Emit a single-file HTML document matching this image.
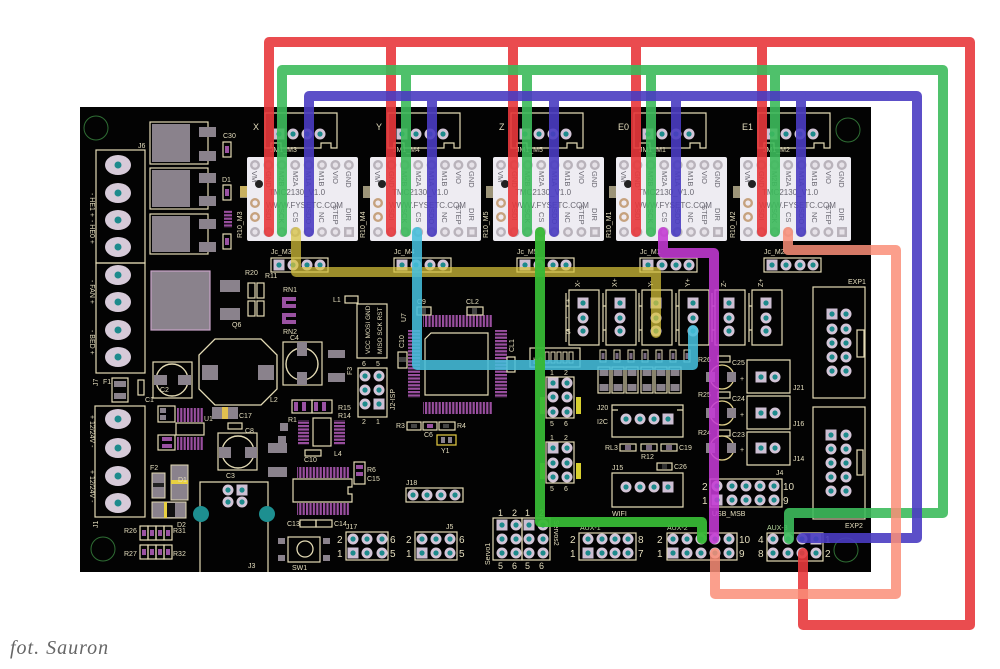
<!DOCTYPE html>
<html><head><meta charset="utf-8"><style>
html,body{margin:0;padding:0;background:#fff;}
svg{display:block;}
text{font-family:"Liberation Sans",sans-serif;}
.s{fill:#e6dfbf;font-size:7px;}
.m{font-family:"Liberation Mono",monospace;fill:#6a6872;font-size:8px;}
.o{fill:none;stroke:#e3dab4;stroke-width:1.2;}
.g{fill:#8a828c;}
.p{fill:#9a52a2;}
</style></head><body>
<svg width="1000" height="669" viewBox="0 0 1000 669" xmlns="http://www.w3.org/2000/svg" xmlns:xlink="http://www.w3.org/1999/xlink">
<defs>
<g id="pr"><circle r="5.5" fill="#d3c5d7"/><circle r="2.6" fill="#1d8a8c"/></g>
<g id="ps"><rect x="-5.5" y="-5.5" width="11" height="11" fill="#cdbfd3"/><circle r="2.6" fill="#1d8a8c"/></g>
<g id="dp"><circle r="5" fill="#b9b3bb"/><circle r="2.6" fill="#e6e2e8"/></g>
<g id="db"><circle r="5" fill="#c6a27e"/><circle r="2.6" fill="#efeaf0"/></g>
<pattern id="vs" width="3.4" height="10" patternUnits="userSpaceOnUse"><rect width="2.2" height="10" fill="#9a4fa0"/></pattern>
<pattern id="hs" width="10" height="3.4" patternUnits="userSpaceOnUse"><rect width="10" height="2.2" fill="#9a4fa0"/></pattern>
<g id="drv">
 <rect x="-7" y="186" width="8" height="12" fill="#9c9478"/>
 <rect x="0" y="157" width="111" height="84" rx="2" fill="#eeecf2"/>
 <use href="#dp" x="8" y="165"/><use href="#dp" x="21.4" y="165"/><use href="#dp" x="34.8" y="165"/><use href="#dp" x="48.2" y="165"/><use href="#dp" x="61.6" y="165"/><use href="#dp" x="75" y="165"/><use href="#dp" x="88.4" y="165"/><use href="#dp" x="101.8" y="165"/>
 <use href="#dp" x="8" y="232"/><use href="#dp" x="21.4" y="232"/><use href="#dp" x="34.8" y="232"/><use href="#dp" x="48.2" y="232"/><use href="#dp" x="61.6" y="232"/><use href="#dp" x="75" y="232"/><use href="#dp" x="88.4" y="232"/>
 <rect x="97" y="227" width="10" height="10" fill="#b9b3bb"/><rect x="99.5" y="229.5" width="5" height="5" fill="#e6e2e8"/>
 <use href="#db" x="8" y="203"/><use href="#db" x="8" y="217"/>
 <circle cx="12" cy="184" r="4" fill="#222"/>
 <path class="o" d="M18,113 H90 V148 H84 V143 H74 V148 H34 V143 H24 V148 H18 Z"/>
 <use href="#ps" x="32" y="134"/><use href="#pr" x="46" y="134"/><use href="#pr" x="60" y="134"/><use href="#pr" x="73" y="134"/>
 <rect class="o" x="24" y="258" width="57" height="14"/>
 <use href="#ps" x="32" y="265"/><use href="#pr" x="46" y="265"/><use href="#pr" x="60" y="265"/><use href="#pr" x="73" y="265"/>
</g>
<g id="es">
 <path class="o" d="M-14,290 H16 V345 H-14 Z M-17,293 V342 M-17,306 H-14 M-17,330 H-14"/>
 <use href="#ps" x="0" y="303"/><use href="#pr" x="0" y="318"/><use href="#pr" x="0" y="331"/>
</g>
<g id="bc"><rect class="o" x="0" y="0" width="12" height="26"/><rect class="g" x="1.5" y="2" width="9" height="7"/><rect class="g" x="1.5" y="17" width="9" height="7"/></g>
<g id="sr"><rect x="0" y="0" width="6" height="12" fill="none" stroke="#e3dab4"/><rect x="1.5" y="3" width="3" height="6" fill="#7a6a80"/></g>
</defs>

<!-- board -->
<rect x="80" y="107" width="791" height="465" fill="#030303"/>
<circle cx="96" cy="128" r="12" fill="none" stroke="#2f6e34" stroke-width="1"/>
<circle cx="848" cy="130" r="12" fill="none" stroke="#2f6e34" stroke-width="1"/>
<circle cx="103" cy="549" r="12" fill="none" stroke="#2f6e34" stroke-width="1"/>
<circle cx="846" cy="550" r="12" fill="none" stroke="#2f6e34" stroke-width="1"/>

<!-- drivers -->
<use href="#drv" x="247"/><use href="#drv" x="370"/><use href="#drv" x="493"/><use href="#drv" x="616"/><use href="#drv" x="740"/>
<g class="s" style="font-size:9px">
<text x="253" y="130">X</text><text x="376" y="130">Y</text><text x="499" y="130">Z</text><text x="618" y="130">E0</text><text x="742" y="130">E1</text>
</g>
<g class="s">
<text x="271" y="254">Jc_M3</text><text x="394" y="254">Jc_M4</text><text x="517" y="254">Jc_M5</text><text x="640" y="254">Jc_M1</text><text x="764" y="254">Jc_M2</text>
<text x="270" y="152">JM1_M3</text><text x="393" y="152">JM1_M4</text><text x="516" y="152">JM1_M5</text><text x="639" y="152">JM1_M1</text><text x="763" y="152">JM1_M2</text>
<text transform="translate(242,238) rotate(-90)">R10_M3</text><text transform="translate(365,238) rotate(-90)">R10_M4</text><text transform="translate(488,238) rotate(-90)">R10_M5</text><text transform="translate(611,238) rotate(-90)">R10_M1</text><text transform="translate(735,238) rotate(-90)">R10_M2</text>
</g>
<g class="m">
<text x="269" y="195">TMC2130_V1.0</text><text x="266" y="208">WWW.FYSETC.COM</text>
<text x="392" y="195">TMC2130_V1.0</text><text x="389" y="208">WWW.FYSETC.COM</text>
<text x="515" y="195">TMC2130_V1.0</text><text x="512" y="208">WWW.FYSETC.COM</text>
<text x="638" y="195">TMC2130_V1.0</text><text x="635" y="208">WWW.FYSETC.COM</text>
<text x="762" y="195">TMC2130_V1.0</text><text x="759" y="208">WWW.FYSETC.COM</text>
</g>
<g class="m" style="font-size:7.5px">
<text transform="translate(252,171) rotate(90)">VM</text><text transform="translate(266,171) rotate(90)">GND</text><text transform="translate(279,171) rotate(90)">M2B</text><text transform="translate(293,171) rotate(90)">M2A</text><text transform="translate(306,171) rotate(90)">M1A</text><text transform="translate(319,171) rotate(90)">M1B</text><text transform="translate(333,171) rotate(90)">VIO</text><text transform="translate(346,171) rotate(90)">GND</text>
<text transform="translate(266,208) rotate(90)">SDI</text><text transform="translate(279,208) rotate(90)">SCK</text><text transform="translate(293,212) rotate(90)">CS</text><text transform="translate(306,208) rotate(90)">SDO</text><text transform="translate(319,212) rotate(90)">NC</text><text transform="translate(333,205) rotate(90)">STEP</text><text transform="translate(346,208) rotate(90)">DIR</text>
<text transform="translate(375,171) rotate(90)">VM</text><text transform="translate(389,171) rotate(90)">GND</text><text transform="translate(402,171) rotate(90)">M2B</text><text transform="translate(416,171) rotate(90)">M2A</text><text transform="translate(429,171) rotate(90)">M1A</text><text transform="translate(442,171) rotate(90)">M1B</text><text transform="translate(456,171) rotate(90)">VIO</text><text transform="translate(469,171) rotate(90)">GND</text>
<text transform="translate(389,208) rotate(90)">SDI</text><text transform="translate(402,208) rotate(90)">SCK</text><text transform="translate(416,212) rotate(90)">CS</text><text transform="translate(429,208) rotate(90)">SDO</text><text transform="translate(442,212) rotate(90)">NC</text><text transform="translate(456,205) rotate(90)">STEP</text><text transform="translate(469,208) rotate(90)">DIR</text>
<text transform="translate(498,171) rotate(90)">VM</text><text transform="translate(512,171) rotate(90)">GND</text><text transform="translate(525,171) rotate(90)">M2B</text><text transform="translate(539,171) rotate(90)">M2A</text><text transform="translate(552,171) rotate(90)">M1A</text><text transform="translate(565,171) rotate(90)">M1B</text><text transform="translate(579,171) rotate(90)">VIO</text><text transform="translate(592,171) rotate(90)">GND</text>
<text transform="translate(512,208) rotate(90)">SDI</text><text transform="translate(525,208) rotate(90)">SCK</text><text transform="translate(539,212) rotate(90)">CS</text><text transform="translate(552,208) rotate(90)">SDO</text><text transform="translate(565,212) rotate(90)">NC</text><text transform="translate(579,205) rotate(90)">STEP</text><text transform="translate(592,208) rotate(90)">DIR</text>
<text transform="translate(621,171) rotate(90)">VM</text><text transform="translate(635,171) rotate(90)">GND</text><text transform="translate(648,171) rotate(90)">M2B</text><text transform="translate(662,171) rotate(90)">M2A</text><text transform="translate(675,171) rotate(90)">M1A</text><text transform="translate(688,171) rotate(90)">M1B</text><text transform="translate(702,171) rotate(90)">VIO</text><text transform="translate(715,171) rotate(90)">GND</text>
<text transform="translate(635,208) rotate(90)">SDI</text><text transform="translate(648,208) rotate(90)">SCK</text><text transform="translate(662,212) rotate(90)">CS</text><text transform="translate(675,208) rotate(90)">SDO</text><text transform="translate(688,212) rotate(90)">NC</text><text transform="translate(702,205) rotate(90)">STEP</text><text transform="translate(715,208) rotate(90)">DIR</text>
<text transform="translate(745,171) rotate(90)">VM</text><text transform="translate(759,171) rotate(90)">GND</text><text transform="translate(772,171) rotate(90)">M2B</text><text transform="translate(786,171) rotate(90)">M2A</text><text transform="translate(799,171) rotate(90)">M1A</text><text transform="translate(812,171) rotate(90)">M1B</text><text transform="translate(826,171) rotate(90)">VIO</text><text transform="translate(839,171) rotate(90)">GND</text>
<text transform="translate(759,208) rotate(90)">SDI</text><text transform="translate(772,208) rotate(90)">SCK</text><text transform="translate(786,212) rotate(90)">CS</text><text transform="translate(799,208) rotate(90)">SDO</text><text transform="translate(812,212) rotate(90)">NC</text><text transform="translate(826,205) rotate(90)">STEP</text><text transform="translate(839,208) rotate(90)">DIR</text>
</g>

<!-- left power section -->
<rect class="o" x="96" y="150" width="49" height="113"/>
<rect class="o" x="96" y="263" width="49" height="110"/>
<rect class="o" x="95" y="406" width="50" height="111"/>
<g fill="#d6cad8">
<ellipse cx="118" cy="165" rx="13" ry="10"/><ellipse cx="118" cy="193" rx="13" ry="10"/><ellipse cx="118" cy="220" rx="13" ry="10"/><ellipse cx="118" cy="247" rx="13" ry="10"/>
<ellipse cx="118" cy="275" rx="13" ry="10"/><ellipse cx="118" cy="302" rx="13" ry="10"/><ellipse cx="118" cy="330" rx="13" ry="10"/><ellipse cx="118" cy="357" rx="13" ry="10"/>
<ellipse cx="118" cy="419" rx="13" ry="10"/><ellipse cx="118" cy="448" rx="13" ry="10"/><ellipse cx="118" cy="476" rx="13" ry="10"/><ellipse cx="118" cy="503" rx="13" ry="10"/>
</g>
<g fill="#1d8a8c">
<circle cx="118" cy="165" r="3.5"/><circle cx="118" cy="193" r="3.5"/><circle cx="118" cy="220" r="3.5"/><circle cx="118" cy="247" r="3.5"/>
<circle cx="118" cy="275" r="3.5"/><circle cx="118" cy="302" r="3.5"/><circle cx="118" cy="330" r="3.5"/><circle cx="118" cy="357" r="3.5"/>
<circle cx="118" cy="419" r="3.5"/><circle cx="118" cy="448" r="3.5"/><circle cx="118" cy="476" r="3.5"/><circle cx="118" cy="503" r="3.5"/>
</g>
<g class="s">
<text transform="translate(90,193) rotate(90)">- HE1 +</text>
<text transform="translate(90,220) rotate(90)" x="0">- HE0 +</text>
<text transform="translate(90,280) rotate(90)">- FAN +</text>
<text transform="translate(90,330) rotate(90)">- BED +</text>
<text transform="translate(90,415) rotate(90)">+ 12/24V -</text>
<text transform="translate(90,470) rotate(90)">+ 12/24V -</text>
<text x="138" y="148">J6</text><text transform="translate(98,386) rotate(-90)">J7</text><text transform="translate(98,528) rotate(-90)">J1</text>
</g>
<!-- mosfets -->
<g>
<rect class="o" x="150" y="122" width="58" height="42"/><rect class="g" x="152" y="124" width="38" height="38"/><rect class="g" x="199" y="127" width="17" height="10"/><rect class="g" x="199" y="151" width="17" height="10"/>
<rect class="o" x="150" y="168" width="58" height="41"/><rect class="g" x="152" y="170" width="38" height="37"/><rect class="g" x="199" y="173" width="17" height="10"/><rect class="g" x="199" y="196" width="17" height="10"/>
<rect class="o" x="150" y="214" width="58" height="40"/><rect class="g" x="152" y="216" width="38" height="36"/><rect class="g" x="199" y="219" width="17" height="10"/><rect class="g" x="199" y="242" width="17" height="10"/>
<rect x="151" y="271" width="59" height="59" fill="#8a828c" stroke="#c9a4c9" stroke-width="1.2"/>
<rect class="g" x="220" y="280" width="20" height="12"/><rect class="g" x="220" y="308" width="20" height="12"/>
<rect class="o" x="223" y="142" width="8" height="15"/><rect class="p" x="225" y="146" width="4" height="7"/>
<rect class="o" x="223" y="185" width="8" height="15"/><rect class="p" x="225" y="189" width="4" height="7"/>
<rect class="o" x="223" y="234" width="8" height="15"/><rect class="p" x="225" y="238" width="4" height="7"/>
<rect x="224" y="210" width="8" height="18" fill="url(#hs)"/>
<rect x="240" y="186" width="7" height="11" fill="#c8b060"/>
<rect class="o" x="248" y="283" width="7" height="15"/><rect class="o" x="257" y="283" width="7" height="15"/>
<rect class="o" x="248" y="301" width="7" height="15"/><rect class="o" x="257" y="301" width="7" height="15"/>
<path d="M282,297 h14 v4 h-10 v3 h10 v4 h-14 Z M282,313 h14 v4 h-10 v3 h10 v4 h-14 Z" fill="#9a52a2"/>
</g>
<g class="s">
<text x="223" y="138">C30</text><text x="222" y="182">D1</text><text x="245" y="275">R20</text><text x="283" y="292">RN1</text><text x="283" y="334">RN2</text><text x="232" y="327">Q6</text><text x="265" y="278">R11</text>
</g>

<!-- caps and inductor -->
<rect class="o" x="153" y="362" width="39" height="36"/>
<circle cx="172" cy="380" r="16" fill="none" stroke="#e3dab4" stroke-width="1.4"/>
<rect class="g" x="154" y="375" width="13" height="10"/><rect class="g" x="178" y="375" width="13" height="10"/>
<polygon points="215,339 261,339 277,355 277,389 261,405 215,405 199,389 199,355" fill="none" stroke="#e3dab4" stroke-width="1.3"/>
<rect class="g" x="202" y="365" width="16" height="15"/><rect class="g" x="258" y="365" width="16" height="15"/>
<rect class="o" x="283" y="342" width="39" height="43"/>
<circle cx="302" cy="364" r="16" fill="none" stroke="#e3dab4" stroke-width="1.4"/>
<rect class="g" x="297" y="342" width="10" height="14"/><rect class="g" x="297" y="372" width="10" height="13"/>
<rect class="g" x="328" y="350" width="17" height="8"/><rect class="g" x="328" y="373" width="17" height="9"/>
<rect class="o" x="218" y="433" width="39" height="37"/>
<circle cx="238" cy="452" r="16" fill="none" stroke="#e3dab4" stroke-width="1.4"/>
<rect class="g" x="219" y="447" width="12" height="11"/><rect class="g" x="245" y="447" width="12" height="11"/>
<rect class="o" x="112" y="378" width="16" height="24"/><rect class="g" x="114" y="381" width="12" height="6"/><rect class="g" x="114" y="393" width="12" height="6"/>
<rect class="o" x="138" y="380" width="6" height="15"/>
<rect class="o" x="158" y="406" width="17" height="16"/><rect class="g" x="160" y="408" width="6" height="5"/><rect class="g" x="160" y="415" width="6" height="5"/>
<rect class="o" x="158" y="435" width="17" height="15"/><rect class="p" x="162" y="437" width="10" height="4"/><rect class="p" x="162" y="444" width="10" height="4"/>
<rect x="177" y="408" width="26" height="14" fill="url(#vs)"/><rect x="177" y="437" width="26" height="13" fill="url(#vs)"/>
<rect class="o" x="176" y="423" width="28" height="12"/>
<rect class="g" x="212" y="407" width="10" height="12"/><rect x="222" y="407" width="6" height="12" fill="#e0c050"/><rect class="g" x="228" y="407" width="10" height="12"/>
<rect class="o" x="228" y="423" width="14" height="6"/>
<rect class="g" x="268" y="443" width="19" height="10"/><rect class="g" x="268" y="467" width="19" height="10"/>
<rect class="o" x="292" y="400" width="20" height="13"/><rect class="o" x="312" y="400" width="20" height="13"/>
<rect class="p" x="294" y="402" width="4" height="9"/><rect class="p" x="302" y="402" width="4" height="9"/><rect class="p" x="314" y="402" width="4" height="9"/><rect class="p" x="322" y="402" width="4" height="9"/>
<rect class="o" x="313" y="418" width="18" height="28"/>
<rect x="298" y="420" width="11" height="25" fill="url(#hs)"/><rect x="334" y="420" width="11" height="25" fill="url(#hs)"/>
<rect class="o" x="305" y="450" width="16" height="6"/>
<rect class="g" x="280" y="423" width="8" height="8"/><rect class="g" x="278" y="436" width="8" height="8"/>
<!-- U3 -->
<rect x="297" y="467" width="52" height="11" fill="url(#vs)"/><rect x="297" y="503" width="52" height="12" fill="url(#vs)"/>
<path class="o" d="M293,479 H352 V487 H348 V494 H352 V502 H293 Z"/>
<rect class="o" x="300" y="520" width="16" height="7"/><rect class="o" x="316" y="520" width="16" height="7"/>
<rect class="o" x="354" y="462" width="11" height="22"/><rect class="p" x="356" y="465" width="7" height="4"/><rect class="p" x="356" y="472" width="7" height="4"/>
<!-- diodes/fuses -->
<rect x="152" y="473" width="13" height="25" fill="#8a828c" stroke="#e3dab4" stroke-width="1"/><rect x="153" y="483" width="11" height="4" fill="#222"/>
<rect x="171" y="465" width="17" height="35" fill="#8a828c" stroke="#e3dab4" stroke-width="1"/><rect x="171" y="480" width="17" height="4" fill="#e8d040"/>
<rect x="152" y="502" width="34" height="16" fill="#8a828c" stroke="#e3dab4" stroke-width="1"/><rect x="164" y="502" width="3" height="16" fill="#e8d040"/><rect x="167" y="503" width="8" height="14" fill="#111"/>
<g><rect class="o" x="140" y="526" width="8" height="14"/><rect class="o" x="148" y="526" width="8" height="14"/><rect class="o" x="156" y="526" width="8" height="14"/><rect class="o" x="164" y="526" width="8" height="14"/>
<rect class="o" x="140" y="545" width="8" height="14"/><rect class="o" x="148" y="545" width="8" height="14"/><rect class="o" x="156" y="545" width="8" height="14"/><rect class="o" x="164" y="545" width="8" height="14"/>
<rect class="p" x="142" y="530" width="4" height="6"/><rect class="p" x="150" y="530" width="4" height="6"/><rect class="p" x="158" y="530" width="4" height="6"/><rect class="p" x="166" y="530" width="4" height="6"/>
<rect class="p" x="142" y="549" width="4" height="6"/><rect class="p" x="150" y="549" width="4" height="6"/><rect class="p" x="158" y="549" width="4" height="6"/><rect class="p" x="166" y="549" width="4" height="6"/></g>
<!-- USB J3 -->
<path class="o" d="M200,572 V482 H268 V572"/>
<circle cx="201" cy="514" r="8" fill="#1d8f90"/><circle cx="267" cy="514" r="8" fill="#1d8f90"/>
<use href="#pr" x="228" y="490"/><use href="#ps" x="242" y="490"/><use href="#pr" x="228" y="502"/><use href="#pr" x="242" y="502"/>
<!-- SW1 -->
<rect class="o" x="288" y="537" width="32" height="25"/><circle cx="305" cy="549" r="8" fill="none" stroke="#e3dab4" stroke-width="1.3"/>
<rect class="g" x="278" y="538" width="7" height="6"/><rect class="g" x="278" y="555" width="7" height="6"/><rect class="g" x="323" y="538" width="7" height="6"/><rect class="g" x="323" y="555" width="7" height="6"/>
<g class="s">
<text x="145" y="402">C1</text><text x="270" y="402">L2</text><text x="290" y="340">C4</text><text x="226" y="478">C3</text><text x="160" y="392">C2</text>
<text x="178" y="482" transform="rotate(0)">D1</text><text x="177" y="527">D2</text><text x="150" y="470">F2</text><text x="103" y="384">F1</text>
<text x="204" y="421">U1</text><text x="239" y="418">C17</text><text x="245" y="433">C8</text><text x="288" y="422">R1</text><text x="338" y="410">R15</text><text x="338" y="418">R14</text>
<text x="334" y="456">L4</text><text x="304" y="462">C10</text><text x="287" y="526">C13</text><text x="334" y="526">C14</text><text x="292" y="570">SW1</text><text x="248" y="568">J3</text>
<text x="173" y="533">R31</text><text x="173" y="556">R32</text><text x="124" y="533">R26</text><text x="124" y="556">R27</text><text x="367" y="472">R6</text><text x="367" y="481">C15</text>
</g>

<!-- ICSP / MCU -->
<rect class="o" x="345" y="296" width="13" height="7"/><text class="s" x="333" y="302">L1</text>
<rect class="o" x="357" y="304" width="30" height="54"/>
<g class="s" style="font-size:6.5px"><text transform="translate(370,354) rotate(-90)">VCC MOSI GND</text><text transform="translate(382,354) rotate(-90)">MISO SCK RST</text></g>
<rect class="o" x="358" y="368" width="29" height="49"/>
<use href="#pr" x="365" y="376"/><use href="#pr" x="379" y="376"/><use href="#pr" x="365" y="390"/><use href="#pr" x="379" y="390"/><use href="#pr" x="365" y="404"/><use href="#ps" x="379" y="404"/>
<g class="s"><text x="362" y="366">6</text><text x="376" y="366">5</text><text x="362" y="424">2</text><text x="376" y="424">1</text><text transform="translate(352,375) rotate(-90)">F3</text><text transform="translate(395,410) rotate(-90)">J2-ISP</text></g>
<rect x="423" y="315" width="69" height="12" fill="url(#vs)"/><rect x="423" y="402" width="69" height="12" fill="url(#vs)"/>
<rect x="408" y="330" width="12" height="68" fill="url(#hs)"/><rect x="495" y="330" width="12" height="68" fill="url(#hs)"/>
<path class="o" d="M431,333 H488 V395 H425 V339 Z"/>
<rect class="o" x="417" y="307" width="14" height="8"/><rect x="421" y="308" width="5" height="6" fill="#444"/>
<rect class="o" x="467" y="307" width="16" height="8"/><rect x="472" y="308" width="5" height="6" fill="#444"/>
<rect class="o" x="398" y="352" width="9" height="16"/><rect x="399" y="357" width="7" height="5" fill="#444"/>
<rect class="o" x="507" y="357" width="8" height="15"/>
<g class="s"><text x="417" y="304">C9</text><text x="466" y="304">CL2</text><text transform="translate(404,348) rotate(-90)">C10</text><text transform="translate(514,352) rotate(-90)">CL1</text><text transform="translate(406,322) rotate(-90)">U7</text></g>
<rect class="o" x="407" y="422" width="14" height="8"/><rect class="o" x="423" y="422" width="14" height="8"/><rect class="o" x="439" y="422" width="16" height="8"/>
<rect x="427" y="424" width="6" height="4" fill="#9a52a2"/><rect x="411" y="424" width="6" height="4" fill="#444"/><rect x="443" y="424" width="6" height="4" fill="#444"/>
<rect x="437" y="435" width="19" height="10" fill="none" stroke="#d8c040" stroke-width="1.3"/><rect class="g" x="441" y="437" width="4" height="6"/><rect class="g" x="448" y="437" width="4" height="6"/>
<g class="s"><text x="396" y="428">R3</text><text x="424" y="437">C6</text><text x="457" y="428">R4</text><text x="441" y="453">Y1</text><text x="406" y="485">J18</text><text x="346" y="529">J17</text><text x="446" y="529">J5</text></g>
<rect class="o" x="406" y="488" width="57" height="14"/>
<use href="#pr" x="413" y="495"/><use href="#pr" x="427" y="495"/><use href="#pr" x="441" y="495"/><use href="#pr" x="455" y="495"/>
<!-- J17 J5 -->
<rect class="o" x="346" y="532" width="42" height="28"/>
<use href="#pr" x="353" y="539"/><use href="#pr" x="367" y="539"/><use href="#pr" x="382" y="539"/><use href="#ps" x="353" y="553"/><use href="#pr" x="367" y="553"/><use href="#pr" x="382" y="553"/>
<rect class="o" x="415" y="532" width="42" height="28"/>
<use href="#pr" x="422" y="539"/><use href="#pr" x="436" y="539"/><use href="#pr" x="450" y="539"/><use href="#ps" x="422" y="553"/><use href="#pr" x="436" y="553"/><use href="#pr" x="450" y="553"/>
<g class="s" style="font-size:10px"><text x="337" y="543">2</text><text x="337" y="557">1</text><text x="390" y="543">6</text><text x="390" y="557">5</text><text x="406" y="543">2</text><text x="406" y="557">1</text><text x="459" y="543">6</text><text x="459" y="557">5</text></g>
<!-- servos -->
<rect class="o" x="493" y="518" width="29" height="42"/><rect class="o" x="522" y="518" width="28" height="42"/>
<use href="#ps" x="502" y="525"/><use href="#pr" x="516" y="525"/><use href="#ps" x="529" y="525"/><use href="#pr" x="543" y="525"/>
<use href="#pr" x="502" y="539"/><use href="#pr" x="516" y="539"/><use href="#pr" x="529" y="539"/><use href="#pr" x="543" y="539"/>
<use href="#pr" x="502" y="553"/><use href="#pr" x="516" y="553"/><use href="#pr" x="529" y="553"/><use href="#pr" x="543" y="553"/>
<g class="s"><text x="498" y="516" style="font-size:9px">1</text><text x="512" y="516" style="font-size:9px">2</text><text x="525" y="516" style="font-size:9px">1</text><text x="539" y="516" style="font-size:9px">2</text>
<text x="498" y="569" style="font-size:9px">5</text><text x="512" y="569" style="font-size:9px">6</text><text x="525" y="569" style="font-size:9px">5</text><text x="539" y="569" style="font-size:9px">6</text>
<text transform="translate(490,565) rotate(-90)">Servo1</text><text transform="translate(554,520) rotate(90)">Servos2</text></g>

<!-- endstops -->
<use href="#es" x="583"/><use href="#es" x="620"/><use href="#es" x="656"/><use href="#es" x="693"/><use href="#es" x="729"/><use href="#es" x="766"/>
<g class="s"><text transform="translate(580,287) rotate(-90)">X-</text><text transform="translate(617,287) rotate(-90)">X+</text><text transform="translate(653,287) rotate(-90)">Y-</text><text transform="translate(690,287) rotate(-90)">Y+</text><text transform="translate(726,287) rotate(-90)">Z-</text><text transform="translate(763,287) rotate(-90)">Z+</text>
<text x="566" y="303">+</text><text x="566" y="320">-</text><text x="566" y="334">S</text></g>
<!-- resistor row and caps -->
<rect class="o" x="530" y="348" width="50" height="19"/>
<g class="s"><text x="533" y="364" style="font-size:9px">b8</text></g>
<rect x="545" y="352" width="4" height="11" fill="none" stroke="#e3dab4"/><rect x="551" y="352" width="4" height="11" fill="none" stroke="#e3dab4"/><rect x="557" y="352" width="4" height="11" fill="none" stroke="#e3dab4"/><rect x="563" y="352" width="4" height="11" fill="none" stroke="#e3dab4"/><rect x="569" y="352" width="4" height="11" fill="none" stroke="#e3dab4"/>
<use href="#sr" x="600" y="350"/><use href="#sr" x="614" y="350"/><use href="#sr" x="628" y="350"/><use href="#sr" x="642" y="350"/><use href="#sr" x="656" y="350"/><use href="#sr" x="670" y="350"/><use href="#sr" x="684" y="350"/>
<use href="#bc" x="598" y="367"/><use href="#bc" x="612" y="367"/><use href="#bc" x="626" y="367"/><use href="#bc" x="641" y="367"/><use href="#bc" x="655" y="367"/><use href="#bc" x="669" y="367"/>
<!-- jumpers -->
<rect class="o" x="546" y="377" width="28" height="41"/>
<use href="#ps" x="553" y="383"/><use href="#pr" x="567" y="383"/><use href="#pr" x="553" y="397"/><use href="#pr" x="567" y="397"/><use href="#pr" x="553" y="412"/><use href="#pr" x="567" y="412"/>
<rect x="540" y="397" width="5" height="17" fill="#d8d030"/><rect x="576" y="397" width="5" height="17" fill="#d8d030"/>
<rect class="o" x="546" y="442" width="28" height="41"/>
<use href="#ps" x="553" y="448"/><use href="#pr" x="567" y="448"/><use href="#pr" x="553" y="463"/><use href="#pr" x="567" y="463"/><use href="#pr" x="553" y="477"/><use href="#pr" x="567" y="477"/>
<rect x="540" y="463" width="5" height="16" fill="#d8d030"/><rect x="576" y="463" width="5" height="16" fill="#d8d030"/>
<g class="s"><text x="550" y="375">1</text><text x="564" y="375">2</text><text x="550" y="426">5</text><text x="564" y="426">6</text><text x="550" y="440">1</text><text x="564" y="440">2</text><text x="550" y="491">5</text><text x="564" y="491">6</text></g>
<!-- J20 J15 -->
<path class="o" d="M612,405 H683 V437 H612 Z M612,410 H618 M677,410 H683"/>
<use href="#pr" x="626" y="419"/><use href="#pr" x="640" y="419"/><use href="#pr" x="654" y="419"/><use href="#ps" x="668" y="419"/>
<path class="o" d="M612,473 H683 V507 H612 Z"/>
<use href="#pr" x="626" y="487"/><use href="#pr" x="640" y="487"/><use href="#pr" x="654" y="487"/><use href="#ps" x="668" y="487"/>
<rect class="o" x="620" y="444" width="16" height="7"/><rect class="o" x="641" y="444" width="16" height="7"/><rect class="o" x="661" y="444" width="16" height="7"/>
<rect x="625" y="445" width="6" height="5" fill="#7a6a80"/><rect x="646" y="445" width="6" height="5" fill="#7a6a80"/><rect x="666" y="445" width="6" height="5" fill="#7a6a80"/>
<rect class="o" x="657" y="463" width="15" height="7"/><rect x="662" y="464" width="5" height="5" fill="#333"/>
<g class="s"><text x="597" y="410">J20</text><text x="597" y="424">I2C</text><text x="605" y="450">RL3</text><text x="641" y="459">R12</text><text x="679" y="450">C19</text><text x="674" y="469">C26</text><text x="612" y="470">J15</text><text x="612" y="516">WIFI</text></g>
<!-- C25-23, J21/J16/J14 -->
<g>
<rect class="o" x="718" y="356" width="12" height="6"/><rect class="o" x="718" y="392" width="12" height="6"/><rect class="o" x="718" y="430" width="12" height="6"/>
<circle cx="722" cy="377" r="12" fill="none" stroke="#e0d08a" stroke-width="1.3"/><circle cx="722" cy="413" r="12" fill="none" stroke="#e0d08a" stroke-width="1.3"/><circle cx="722" cy="448" r="12" fill="none" stroke="#e0d08a" stroke-width="1.3"/>
<rect class="g" x="706" y="372" width="9" height="10"/><rect class="g" x="727" y="372" width="9" height="10"/>
<rect class="g" x="706" y="408" width="9" height="10"/><rect class="g" x="727" y="408" width="9" height="10"/>
<rect class="g" x="706" y="443" width="9" height="10"/><rect class="g" x="727" y="443" width="9" height="10"/>
<path class="o" d="M747,360 H790 V393 H747 Z M747,396 H790 V429 H747 Z M747,432 H790 V465 H747 Z"/>
<use href="#ps" x="761" y="377"/><use href="#pr" x="775" y="377"/><use href="#ps" x="761" y="413"/><use href="#pr" x="775" y="413"/><use href="#ps" x="761" y="448"/><use href="#pr" x="775" y="448"/>
</g>
<g class="s"><text x="698" y="362">R26</text><text x="732" y="365">C25</text><text x="698" y="397">R25</text><text x="732" y="401">C24</text><text x="698" y="435">R24</text><text x="732" y="437">C23</text>
<text x="793" y="390">J21</text><text x="793" y="426">J16</text><text x="793" y="461">J14</text><text x="740" y="381">+</text><text x="740" y="417">+</text><text x="740" y="452">+</text></g>
<!-- EXP -->
<rect class="o" x="813" y="287" width="52" height="111"/><rect class="o" x="857" y="330" width="7" height="27"/>
<use href="#ps" x="832" y="314"/><use href="#pr" x="846" y="314"/><use href="#pr" x="832" y="329"/><use href="#pr" x="846" y="329"/><use href="#pr" x="832" y="343"/><use href="#pr" x="846" y="343"/><use href="#pr" x="832" y="357"/><use href="#pr" x="846" y="357"/><use href="#pr" x="832" y="371"/><use href="#pr" x="846" y="371"/>
<rect class="o" x="813" y="407" width="52" height="112"/><rect class="o" x="857" y="450" width="6" height="25"/>
<use href="#ps" x="831" y="435"/><use href="#pr" x="846" y="435"/><use href="#pr" x="831" y="449"/><use href="#pr" x="846" y="449"/><use href="#pr" x="831" y="463"/><use href="#pr" x="846" y="463"/><use href="#pr" x="831" y="477"/><use href="#pr" x="846" y="477"/><use href="#pr" x="831" y="491"/><use href="#pr" x="846" y="491"/>
<g class="s"><text x="848" y="284">EXP1</text><text x="845" y="528">EXP2</text></g>
<!-- J4 -->
<rect class="o" x="710" y="479" width="72" height="28"/>
<use href="#pr" x="717" y="486"/><use href="#pr" x="732" y="486"/><use href="#pr" x="746" y="486"/><use href="#pr" x="760" y="486"/><use href="#pr" x="774" y="486"/>
<use href="#ps" x="717" y="500"/><use href="#pr" x="732" y="500"/><use href="#pr" x="746" y="500"/><use href="#pr" x="760" y="500"/><use href="#pr" x="774" y="500"/>
<g class="s" style="font-size:10px"><text x="702" y="490">2</text><text x="783" y="490">10</text><text x="702" y="504">1</text><text x="783" y="504">9</text></g>
<g class="s"><text x="712" y="516">USB_MSB</text><text x="776" y="475">J4</text></g>
<!-- AUX -->
<rect class="o" x="579" y="533" width="57" height="27"/>
<use href="#pr" x="588" y="539"/><use href="#pr" x="602" y="539"/><use href="#pr" x="615" y="539"/><use href="#pr" x="628" y="539"/>
<use href="#ps" x="588" y="553"/><use href="#pr" x="602" y="553"/><use href="#pr" x="615" y="553"/><use href="#pr" x="628" y="553"/>
<rect class="o" x="667" y="533" width="70" height="27"/>
<use href="#pr" x="673" y="539"/><use href="#pr" x="687" y="539"/><use href="#pr" x="701" y="539"/><use href="#pr" x="715" y="539"/><use href="#pr" x="729" y="539"/>
<use href="#ps" x="673" y="553"/><use href="#pr" x="687" y="553"/><use href="#pr" x="701" y="553"/><use href="#pr" x="715" y="553"/><use href="#pr" x="729" y="553"/>
<rect class="o" x="767" y="533" width="56" height="28"/>
<use href="#pr" x="773" y="539"/><use href="#pr" x="788" y="539"/><use href="#pr" x="802" y="539"/><use href="#ps" x="816" y="539"/>
<use href="#pr" x="773" y="553"/><use href="#pr" x="788" y="553"/><use href="#pr" x="802" y="553"/><use href="#pr" x="816" y="553"/>
<g class="s" style="font-size:10px"><text x="570" y="543">2</text><text x="570" y="557">1</text><text x="638" y="543">8</text><text x="638" y="557">7</text>
<text x="657" y="543">2</text><text x="657" y="557">1</text><text x="739" y="543">10</text><text x="739" y="557">9</text>
<text x="758" y="543">4</text><text x="758" y="557">8</text><text x="825" y="543">1</text><text x="825" y="557">2</text></g>
<g style="font-size:7px;fill:#b9dca0"><text x="580" y="530">AUX-1</text><text x="667" y="530">AUX-2</text><text x="767" y="530">AUX-3</text></g>

<!-- wires -->
<g fill="none" stroke-linecap="round" stroke-linejoin="round" stroke-width="10">
<g stroke="#e8383c" opacity="0.9">
<path d="M269,232 V42 H970 V625 H803 V553"/>
<path d="M391,42 V232 M513,42 V232 M636,42 V232 M762,42 V232"/>
</g>
<g stroke="#3dbb5c" opacity="0.9">
<path d="M282,232 V70 H943 V513 H789 V539"/>
<path d="M406,70 V232 M527,70 V232 M651,70 V232 M775,70 V232"/>
</g>
<g stroke="#4a3cc2" opacity="0.9">
<path d="M309,232 V96 H917 V538 H802"/>
<path d="M432,96 V232 M554,96 V232 M676,96 V232 M801,96 V232"/>
</g>
<path stroke="#d8c43c" opacity="0.72" d="M296,232 V272 H656 V333"/>
<path stroke="#45bedc" opacity="0.88" d="M417,232 V365 H693 V330"/>
<path stroke="#37b835" opacity="0.95" d="M540,232 V522 H702 V539"/>
<path stroke="#c43ad4" opacity="0.88" d="M663,232 V253 H714 V539"/>
<path stroke="#fa8e78" opacity="0.85" d="M788,232 V250 H896 V594 H715 V553"/>
</g>

<text x="10" y="654" style="font-family:'Liberation Serif',serif;font-style:italic;font-size:20px;fill:#666;letter-spacing:1px">fot. Sauron</text>
</svg>
</body></html>
